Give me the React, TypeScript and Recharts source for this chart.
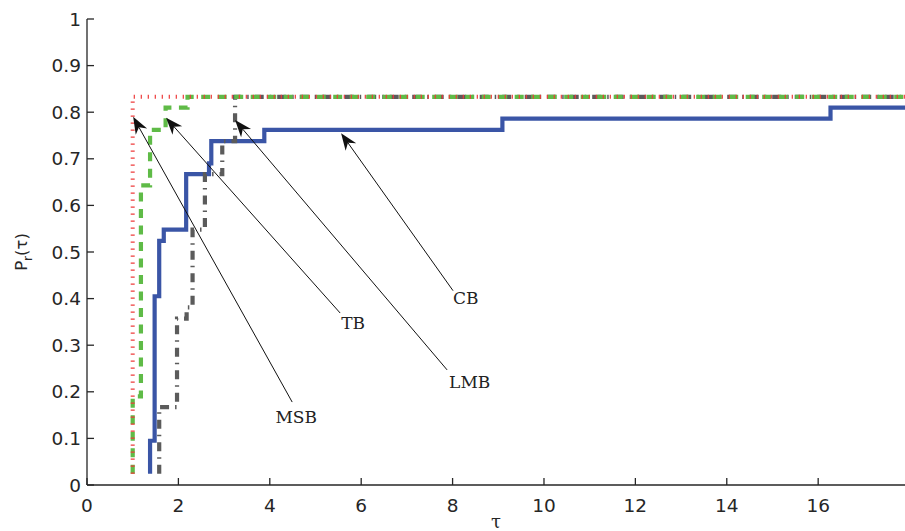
import React from "react"
import { LineChart, Line, XAxis, YAxis, ReferenceLine } from "recharts"

// performance profile, fraction of problems solved within factor tau of the best
const MSB_TAU = [1.0, 1.0, 17.9]
const MSB_P = [0.024, 0.833, 0.833]

const TB_TAU = [1.0, 1.0, 1.18, 1.38, 1.72, 2.2, 17.9]
const TB_P = [0.024, 0.19, 0.643, 0.762, 0.81, 0.833, 0.833]

const LMB_TAU = [1.58, 1.58, 1.97, 2.18, 2.31, 2.58, 2.96, 3.24, 17.9]
const LMB_P = [0.024, 0.167, 0.357, 0.381, 0.548, 0.667, 0.738, 0.833, 0.833]

const CB_TAU = [1.38, 1.38, 1.48, 1.58, 1.68, 2.17, 2.67, 2.72, 3.88, 9.09, 16.27, 17.9]
const CB_P = [0.024, 0.095, 0.405, 0.524, 0.548, 0.667, 0.69, 0.738, 0.762, 0.786, 0.81, 0.81]

const X_TICKS = [0, 2, 4, 6, 8, 10, 12, 14, 16]
const Y_TICKS = [0, 0.1, 0.2, 0.3, 0.4, 0.5, 0.6, 0.7, 0.8, 0.9, 1]

// annotation arrows: label end (tail) and arrow tip, in data units
const ANNOT_NAMES = ["MSB", "TB", "LMB", "CB"]
const ANNOT_TAIL_TAU = [4.49, 5.54, 7.88, 8.01]
const ANNOT_TAIL_P = [0.178, 0.369, 0.247, 0.417]
const ANNOT_TIP_TAU = [1.01, 1.73, 3.24, 5.56]
const ANNOT_TIP_P = [0.79, 0.788, 0.783, 0.755]

const AXIS = "#262626"
const SANS = "'DejaVu Sans', Verdana, sans-serif"
const SERIF = "'DejaVu Serif', 'Courier New', serif"

const rows = (tau: number[], p: number[]) => tau.map((t, i) => ({ tau: t, p: p[i] }))

function BottomTick(props: any) {
  const { x, y, payload } = props
  return (
    <g>
      <line x1={x} y1={y} x2={x} y2={y - 7} stroke={AXIS} strokeWidth={1.3} />
      <text x={x} y={y + 27} textAnchor="middle" fontSize={18.5} fill={AXIS} fontFamily={SANS}>
        {payload.value}
      </text>
    </g>
  )
}

function TopTick(props: any) {
  const { x, y } = props
  return <line x1={x} y1={y} x2={x} y2={y + 7} stroke={AXIS} strokeWidth={1.3} />
}

function LeftTick(props: any) {
  const { x, y, payload } = props
  return (
    <g>
      <line x1={x} y1={y} x2={x + 7} y2={y} stroke={AXIS} strokeWidth={1.3} />
      <text x={x - 6} y={y} dy="0.36em" textAnchor="end" fontSize={18.5} fill={AXIS} fontFamily={SANS}>
        {Math.round(payload.value * 10) / 10}
      </text>
    </g>
  )
}

function RightTick(props: any) {
  const { x, y } = props
  return <line x1={x} y1={y} x2={x - 7} y2={y} stroke={AXIS} strokeWidth={1.3} />
}

const LABEL_POS: Record<string, { dx: number; dy: number; anchor: string }> = {
  MSB: { dx: 4, dy: 21, anchor: "middle" },
  TB: { dx: 1, dy: 16, anchor: "start" },
  LMB: { dx: 2, dy: 18, anchor: "start" },
  CB: { dx: 0, dy: 13, anchor: "start" },
}

function Arrow(props: any) {
  const { x1, y1, x2, y2, name } = props
  const a = Math.atan2(y2 - y1, x2 - x1)
  const c = Math.cos(a)
  const s = Math.sin(a)
  const L = 17
  const hw = 6.5
  const bx = x2 - L * c
  const by = y2 - L * s
  const nx = x2 - 0.7 * L * c
  const ny = y2 - 0.7 * L * s
  const pts = [
    [x2, y2],
    [bx - hw * s, by + hw * c],
    [nx, ny],
    [bx + hw * s, by - hw * c],
  ]
    .map((q) => q.join(","))
    .join(" ")
  const lp = LABEL_POS[name]
  return (
    <g>
      <line x1={x1} y1={y1} x2={nx} y2={ny} stroke="#111" strokeWidth={1} />
      <polygon points={pts} fill="#111" />
      <text
        x={x1 + lp.dx}
        y={y1 + lp.dy}
        textAnchor={lp.anchor}
        fontSize={17}
        fill="#222"
        fontFamily={SERIF}
      >
        {name}
      </text>
    </g>
  )
}

function YLabel(props: any) {
  const vb = props.viewBox || {}
  const cy = (vb.y ?? 19) + (vb.height ?? 466) / 2
  const x = 27
  return (
    <text
      x={x}
      y={cy}
      transform={`rotate(-90, ${x}, ${cy})`}
      textAnchor="middle"
      fontSize={16.5}
      fill={AXIS}
      fontFamily={SANS}
    >
      P
      <tspan fontSize={12} dy={5}>r</tspan>
      <tspan dy={-5}>(τ)</tspan>
    </text>
  )
}

function XLabel(props: any) {
  const vb = props.viewBox || {}
  const cx = (vb.x ?? 87) + (vb.width ?? 818) / 2
  return (
    <text x={cx} y={528} textAnchor="middle" fontSize={18} fill={AXIS} fontFamily={SERIF}>
      τ
    </text>
  )
}

export default function App() {
  return (
    <div style={{ width: 905, height: 531, background: "#fff" }}>
      <style>{"body{margin:0;overflow:hidden}"}</style>
      <LineChart width={905} height={531} margin={{ top: 19, right: 0, bottom: 0, left: 0 }}>
        <XAxis
          xAxisId="b"
          dataKey="tau"
          type="number"
          domain={[0, 17.9]}
          ticks={X_TICKS}
          allowDataOverflow
          height={46}
          tickSize={0}
          tickMargin={0}
          tickLine={false}
          axisLine={{ stroke: AXIS, strokeWidth: 1.3 }}
          tick={<BottomTick />}
          interval={0}
          label={<XLabel />}
        />
        <XAxis
          xAxisId="t"
          orientation="top"
          dataKey="tau"
          type="number"
          domain={[0, 17.9]}
          ticks={X_TICKS}
          allowDataOverflow
          height={0}
          tickSize={0}
          tickMargin={0}
          tickLine={false}
          axisLine={{ stroke: AXIS, strokeWidth: 1.3 }}
          tick={<TopTick />}
          interval={0}
        />
        <YAxis
          yAxisId="l"
          type="number"
          domain={[0, 1]}
          ticks={Y_TICKS}
          allowDataOverflow
          width={87}
          tickSize={0}
          tickMargin={0}
          tickLine={false}
          axisLine={{ stroke: AXIS, strokeWidth: 1.3 }}
          tick={<LeftTick />}
          interval={0}
          label={<YLabel />}
        />
        <YAxis
          yAxisId="r"
          orientation="right"
          type="number"
          domain={[0, 1]}
          ticks={Y_TICKS}
          allowDataOverflow
          width={0}
          tickSize={0}
          tickMargin={0}
          tickLine={false}
          axisLine={{ stroke: AXIS, strokeWidth: 1.3 }}
          tick={<RightTick />}
          interval={0}
        />
        <Line
          xAxisId="b"
          yAxisId="l"
          data={rows(CB_TAU, CB_P)}
          dataKey="p"
          type="stepAfter"
          stroke="#3a55a6"
          strokeWidth={4.2}
          dot={false}
          activeDot={false}
          isAnimationActive={false}
        />
        <Line
          xAxisId="b"
          yAxisId="l"
          data={rows(LMB_TAU, LMB_P)}
          dataKey="p"
          type="stepAfter"
          stroke="#5b5b5b"
          strokeWidth={4.2}
          strokeDasharray="9 6 1.5 6"
          dot={false}
          activeDot={false}
          isAnimationActive={false}
        />
        <Line
          xAxisId="b"
          yAxisId="l"
          data={rows(TB_TAU, TB_P)}
          dataKey="p"
          type="stepAfter"
          stroke="#5fbb47"
          strokeWidth={4.2}
          strokeDasharray="9 7.5"
          dot={false}
          activeDot={false}
          isAnimationActive={false}
        />
        <Line
          xAxisId="b"
          yAxisId="l"
          data={rows(MSB_TAU, MSB_P)}
          dataKey="p"
          type="stepAfter"
          stroke="#ee3b3b"
          strokeWidth={4}
          strokeDasharray="1.2 5.8"
          dot={false}
          activeDot={false}
          isAnimationActive={false}
        />
        {ANNOT_NAMES.map((name, i) => (
          <ReferenceLine
            key={name}
            xAxisId="b"
            yAxisId="l"
            segment={[
              { x: ANNOT_TAIL_TAU[i], y: ANNOT_TAIL_P[i] },
              { x: ANNOT_TIP_TAU[i], y: ANNOT_TIP_P[i] },
            ]}
            ifOverflow="visible"
            shape={(p: any) => <Arrow {...p} name={name} />}
          />
        ))}
      </LineChart>
    </div>
  )
}
